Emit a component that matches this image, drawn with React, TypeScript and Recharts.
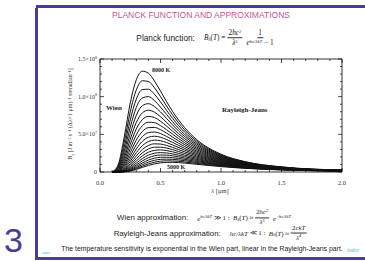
import { LineChart, Line, XAxis, YAxis } from 'recharts'

// wavelength grid in micron
const WAVELENGTH = [0.1, 0.15, 0.2, 0.25, 0.3, 0.35, 0.4, 0.45, 0.5, 0.55, 0.6, 0.7, 0.8, 1.0, 1.2, 1.5, 2.0]

// B_lambda per curve, units of 1e6 J m-2 s-1 um-1 sr-1
const B5000 = [0, 0.0, 0.2, 1.2, 3.4, 6.1, 8.7, 10.8, 12.1, 12.7, 12.8, 11.8, 10.2, 7.1, 4.8, 2.7, 1.2]
const B5150 = [0, 0.0, 0.3, 1.7, 4.4, 7.7, 10.8, 13.0, 14.3, 14.8, 14.7, 13.3, 11.4, 7.8, 5.2, 2.9, 1.2]
const B5300 = [0, 0.0, 0.5, 2.3, 5.8, 9.7, 13.1, 15.5, 16.8, 17.1, 16.8, 15.0, 12.6, 8.5, 5.6, 3.1, 1.3]
const B5450 = [0, 0.0, 0.7, 3.2, 7.4, 12.0, 15.8, 18.3, 19.5, 19.6, 19.0, 16.7, 13.9, 9.2, 6.0, 3.3, 1.4]
const B5600 = [0, 0.1, 1.0, 4.2, 9.4, 14.7, 18.9, 21.5, 22.5, 22.4, 21.5, 18.5, 15.3, 9.9, 6.4, 3.5, 1.4]
const B5750 = [0, 0.1, 1.4, 5.5, 11.7, 17.8, 22.4, 24.9, 25.7, 25.3, 24.0, 20.4, 16.7, 10.6, 6.8, 3.6, 1.5]
const B5900 = [0, 0.1, 1.9, 7.1, 14.5, 21.4, 26.2, 28.7, 29.3, 28.4, 26.8, 22.4, 18.1, 11.4, 7.2, 3.8, 1.6]
const B6050 = [0, 0.2, 2.6, 9.0, 17.7, 25.4, 30.5, 32.9, 33.0, 31.8, 29.7, 24.5, 19.6, 12.2, 7.7, 4.0, 1.6]
const B6200 = [0, 0.3, 3.4, 11.3, 21.4, 29.9, 35.2, 37.4, 37.1, 35.3, 32.7, 26.7, 21.2, 13.0, 8.1, 4.2, 1.7]
const B6350 = [0, 0.4, 4.5, 14.1, 25.7, 35.0, 40.4, 42.3, 41.5, 39.1, 35.9, 29.0, 22.8, 13.8, 8.5, 4.4, 1.8]
const B6500 = [0, 0.6, 5.8, 17.4, 30.6, 40.7, 46.1, 47.5, 46.1, 43.1, 39.3, 31.3, 24.4, 14.6, 9.0, 4.7, 1.8]
const B6650 = [0, 0.9, 7.5, 21.3, 36.2, 46.9, 52.3, 53.1, 51.0, 47.2, 42.8, 33.8, 26.1, 15.5, 9.4, 4.9, 1.9]
const B6800 = [0, 1.2, 9.5, 25.7, 42.4, 53.8, 58.9, 59.1, 56.2, 51.6, 46.4, 36.3, 27.8, 16.3, 9.9, 5.1, 2.0]
const B6950 = [0, 1.6, 11.9, 30.9, 49.4, 61.4, 66.1, 65.5, 61.6, 56.2, 50.2, 38.8, 29.6, 17.2, 10.4, 5.3, 2.1]
const B7100 = [0, 2.1, 14.8, 36.8, 57.2, 69.6, 73.8, 72.3, 67.4, 61.0, 54.1, 41.5, 31.4, 18.1, 10.9, 5.5, 2.1]
const B7250 = [0, 2.8, 18.3, 43.5, 65.8, 78.5, 82.0, 79.4, 73.4, 65.9, 58.2, 44.2, 33.2, 19.0, 11.3, 5.7, 2.2]
const B7400 = [0, 3.7, 22.3, 51.1, 75.3, 88.0, 90.7, 86.9, 79.7, 71.1, 62.4, 47.0, 35.1, 19.9, 11.8, 5.9, 2.3]
const B7550 = [0, 4.8, 27.1, 59.6, 85.7, 98.3, 100.1, 94.8, 86.2, 76.4, 66.7, 49.8, 37.0, 20.8, 12.3, 6.1, 2.3]
const B7700 = [0, 6.1, 32.6, 69.2, 96.8, 109.4, 109.9, 103.1, 93.0, 81.9, 71.2, 52.8, 38.9, 21.7, 12.8, 6.3, 2.4]
const B7850 = [0, 7.7, 39.0, 79.8, 109.0, 121.1, 120.2, 111.8, 100.1, 87.6, 75.8, 55.8, 40.9, 22.7, 13.3, 6.6, 2.5]
const B8000 = [0, 9.7, 46.3, 91.6, 122.4, 133.8, 131.2, 120.8, 107.4, 93.5, 80.4, 58.8, 42.9, 23.6, 13.8, 6.8, 2.6]

const TEMPS = [5000, 5150, 5300, 5450, 5600, 5750, 5900, 6050, 6200, 6350, 6500, 6650, 6800, 6950, 7100, 7250, 7400, 7550, 7700, 7850, 8000]
const CURVES = [B5000, B5150, B5300, B5450, B5600, B5750, B5900, B6050, B6200, B6350, B6500, B6650, B6800, B6950, B7100, B7250, B7400, B7550, B7700, B7850, B8000]

const X_TICKS = [0, 0.1, 0.2, 0.3, 0.4, 0.5, 0.6, 0.7, 0.8, 0.9, 1.0, 1.1, 1.2, 1.3, 1.4, 1.5, 1.6, 1.7, 1.8, 1.9, 2.0]
const X_TICK_LABELS = ['0.0', '0.5', '1.0', '1.5', '2.0']
const Y_TICKS = [0, 10, 20, 30, 40, 50, 60, 70, 80, 90, 100, 110, 120, 130, 140, 150]
const Y_TICK_MANTISSA = ['0', '5.0×10', '1.0×10', '1.5×10']
const Y_TICK_EXP = ['', '7', '8', '8']

const FRAME = '#473d99'
const SERIF = '"Liberation Serif", "DejaVu Serif", serif'
const SANS = '"Liberation Sans", Arial, sans-serif'

const data = WAVELENGTH.map((lam, i) => {
	const row: Record<string, number> = { lam }
	TEMPS.forEach((t, k) => {
		row['t' + t] = CURVES[k][i]
	})
	return row
})

const isMajorX = (v: number) => Math.round(v * 10) % 5 === 0
const isMajorY = (v: number) => v % 50 === 0

function BottomTick({ x, y, payload }: any) {
	const major = isMajorX(payload.value)
	return (
		<g>
			<line x1={x} x2={x} y1={y} y2={y - (major ? 4 : 2)} stroke='#000' strokeWidth={0.7} />
			{major && (
				<text x={x} y={y + 13} textAnchor='middle' fontSize={6.5} fontFamily={SERIF} fill='#333'>
					{X_TICK_LABELS[Math.round(payload.value * 2)]}
				</text>
			)}
		</g>
	)
}

function TopTick({ x, y, payload }: any) {
	const major = isMajorX(payload.value)
	return <line x1={x} x2={x} y1={y} y2={y + (major ? 4 : 2)} stroke='#000' strokeWidth={0.7} />
}

function LeftTick({ x, y, payload }: any) {
	const major = isMajorY(payload.value)
	const idx = Math.round(payload.value / 50)
	return (
		<g>
			<line x1={x} x2={x + (major ? 4 : 2)} y1={y} y2={y} stroke='#000' strokeWidth={0.7} />
			{major && (
				<text x={x - 3} y={y + 2} textAnchor='end' fontSize={6} fontFamily={SERIF} fill='#333'>
					{Y_TICK_MANTISSA[idx]}
					{Y_TICK_EXP[idx] && (
						<tspan dy={-2.5} fontSize={4}>
							{Y_TICK_EXP[idx]}
						</tspan>
					)}
				</text>
			)}
		</g>
	)
}

function RightTick({ x, y, payload }: any) {
	const major = isMajorY(payload.value)
	return <line x1={x} x2={x - (major ? 4 : 2)} y1={y} y2={y} stroke='#000' strokeWidth={0.7} />
}

function Frac({ n, d }: { n: React.ReactNode; d: React.ReactNode }) {
	return (
		<span
			style={{
				display: 'inline-flex',
				flexDirection: 'column',
				alignItems: 'center',
				verticalAlign: 'middle',
				margin: '0 2px',
			}}
		>
			<span style={{ borderBottom: '0.7px solid #333', padding: '0 1px 1px', lineHeight: 1 }}>{n}</span>
			<span style={{ lineHeight: 1, paddingTop: 1 }}>{d}</span>
		</span>
	)
}

const Sup = ({ children }: { children: React.ReactNode }) => (
	<span style={{ fontSize: '0.65em', verticalAlign: '0.5em' }}>{children}</span>
)
const Sub = ({ children }: { children: React.ReactNode }) => (
	<span style={{ fontSize: '0.7em', verticalAlign: '-0.25em' }}>{children}</span>
)

function Row({ cx, cy, children, size = 7.8 }: { cx: number; cy: number; children: React.ReactNode; size?: number }) {
	return (
		<div
			style={{
				position: 'absolute',
				left: cx,
				top: cy,
				transform: 'translate(-50%, -50%)',
				whiteSpace: 'nowrap',
				display: 'flex',
				alignItems: 'center',
				fontSize: size,
				color: '#222',
			}}
		>
			{children}
		</div>
	)
}

function Label({ x, y, size, children }: { x: number; y: number; size: number; children: React.ReactNode }) {
	return (
		<div
			style={{
				position: 'absolute',
				left: x,
				top: y,
				transform: 'translateY(-50%)',
				fontFamily: SERIF,
				fontWeight: 700,
				fontSize: size,
				lineHeight: 1,
				whiteSpace: 'nowrap',
				color: '#222',
			}}
		>
			{children}
		</div>
	)
}

// formula block: serif, a bit smaller than the sans text
function Formula({ children }: { children: React.ReactNode }) {
	return (
		<span style={{ display: 'inline-flex', alignItems: 'center', fontFamily: SERIF, fontSize: '0.88em' }}>{children}</span>
	)
}
const M = ({ children }: { children: React.ReactNode }) => <span style={{ fontStyle: 'italic' }}>{children}</span>
const Up = ({ children }: { children: React.ReactNode }) => <span style={{ fontStyle: 'normal' }}>{children}</span>

export default function App() {
	return (
		<div
			style={{
				position: 'absolute',
				left: 0,
				top: 0,
				width: 365,
				height: 261,
				background: '#fff',
				overflow: 'hidden',
				fontFamily: SANS,
			}}
		>
			{/* slide frame */}
			<div style={{ position: 'absolute', left: 36, top: 5, width: 340, height: 3, background: FRAME }} />
			<div style={{ position: 'absolute', left: 35, top: 8, width: 3, height: 252, background: FRAME }} />
			<div style={{ position: 'absolute', left: 35, top: 257, width: 340, height: 3, background: FRAME }} />
			<div
				style={{
					position: 'absolute',
					left: 4,
					top: 223,
					fontSize: 34,
					lineHeight: 1,
					color: FRAME,
					fontFamily: SANS,
				}}
			>
				3
			</div>
			<div style={{ position: 'absolute', left: 42, top: 250, fontSize: 4.5, color: '#45c3d6', fontFamily: SERIF }}>start</div>
			<div style={{ position: 'absolute', left: 347, top: 247, fontSize: 5.5, color: '#45c3d6', fontFamily: SERIF, fontStyle: 'italic' }}>
				index
			</div>

			{/* title */}
			<div
				style={{
					position: 'absolute',
					left: 201,
					top: 15,
					transform: 'translate(-50%, -50%)',
					whiteSpace: 'nowrap',
					fontSize: 8.5,
					color: '#c4539b',
				}}
			>
				PLANCK FUNCTION AND APPROXIMATIONS
			</div>

			<Row cx={206} cy={38} size={8.3}>
				<span style={{ marginRight: 9 }}>Planck function:</span>
				<Formula>
					<M>B</M>
					<M>
						<Sub>λ</Sub>
					</M>
					<Up>(</Up>
					<M>T</M>
					<Up>)&nbsp;=</Up>
					<Frac
						n={
							<M>
								<Up>2</Up>hc<Sup>2</Sup>
							</M>
						}
						d={
							<M>
								λ<Sup>5</Sup>
							</M>
						}
					/>
					<Frac
						n={<Up>1</Up>}
						d={
							<M>
								e
								<Sup>hc/λkT</Sup>
								<Up> − 1</Up>
							</M>
						}
					/>
				</Formula>
			</Row>

			{/* chart */}
			<div style={{ position: 'absolute', left: 0, top: 0 }}>
				<LineChart width={365} height={261} data={data} margin={{ top: 58, right: 22, bottom: 88, left: 99 }}>
					<XAxis
						dataKey='lam'
						type='number'
						domain={[0, 2]}
						ticks={X_TICKS}
						interval={0}
						height={1}
						tickSize={0}
						tickMargin={0}
						tickLine={false}
						axisLine={{ stroke: '#000', strokeWidth: 0.8 }}
						tick={<BottomTick />}
					/>
					<XAxis
						xAxisId='top'
						orientation='top'
						dataKey='lam'
						type='number'
						domain={[0, 2]}
						ticks={X_TICKS}
						interval={0}
						height={1}
						tickSize={0}
						tickMargin={0}
						tickLine={false}
						axisLine={{ stroke: '#000', strokeWidth: 0.8 }}
						tick={<TopTick />}
					/>
					<YAxis
						type='number'
						domain={[0, 150]}
						ticks={Y_TICKS}
						interval={0}
						width={1}
						tickSize={0}
						tickMargin={0}
						tickLine={false}
						axisLine={{ stroke: '#000', strokeWidth: 0.8 }}
						tick={<LeftTick />}
					/>
					<YAxis
						yAxisId='right'
						orientation='right'
						type='number'
						domain={[0, 150]}
						ticks={Y_TICKS}
						interval={0}
						width={1}
						tickSize={0}
						tickMargin={0}
						tickLine={false}
						axisLine={{ stroke: '#000', strokeWidth: 0.8 }}
						tick={<RightTick />}
					/>
					{TEMPS.map(t => (
						<Line
							key={t}
							type='monotone'
							dataKey={'t' + t}
							stroke='#111'
							strokeWidth={1}
							dot={false}
							isAnimationActive={false}
						/>
					))}
					{/* invisible copy so the top/right frame axes have data */}
					<Line
						xAxisId='top'
						yAxisId='right'
						dataKey='t8000'
						stroke='none'
						dot={false}
						activeDot={false}
						isAnimationActive={false}
					/>
				</LineChart>
			</div>

			{/* y axis title */}
			<div
				style={{
					position: 'absolute',
					left: 71,
					top: 114,
					transform: 'translate(-50%, -50%) rotate(-90deg)',
					whiteSpace: 'nowrap',
					fontFamily: SERIF,
					fontSize: 6,
					color: '#333',
				}}
			>
				B<Sub>λ</Sub> [J m<Sup>−2</Sup> s<Sup>−1</Sup> (Δλ=1 μm)<Sup>−1</Sup> steradian<Sup>−1</Sup>]
			</div>
			<div
				style={{
					position: 'absolute',
					left: 220,
					top: 190,
					transform: 'translate(-50%, -50%)',
					whiteSpace: 'nowrap',
					fontFamily: SERIF,
					fontSize: 6.5,
					color: '#333',
				}}
			>
				<i>λ</i> [μm]
			</div>

			<Label x={152} y={70} size={6}>8000 K</Label>
			<Label x={167} y={167} size={6}>5000 K</Label>
			<Label x={106} y={108} size={7}>Wien</Label>
			<Label x={222} y={110} size={7}>Rayleigh-Jeans</Label>

			<Row cx={204} cy={218}>
				<span style={{ marginRight: 9 }}>Wien approximation:</span>
				<Formula>
					<M>
						e<Sup>hc/λkT</Sup>
					</M>
					<Up>&nbsp;≫ 1 :&nbsp;&nbsp;</Up>
					<M>B</M>
					<M>
						<Sub>λ</Sub>
					</M>
					<Up>(</Up>
					<M>T</M>
					<Up>)&nbsp;≈</Up>
					<Frac
						n={
							<M>
								<Up>2</Up>hc<Sup>2</Sup>
							</M>
						}
						d={
							<M>
								λ<Sup>5</Sup>
							</M>
						}
					/>
					<M>
						&nbsp;e<Sup>−hc/λkT</Sup>
					</M>
				</Formula>
			</Row>

			<Row cx={211} cy={233}>
				<span style={{ marginRight: 9 }}>Rayleigh-Jeans approximation:</span>
				<Formula>
					<M>hc/λkT</M>
					<Up>&nbsp;≪ 1 :&nbsp;&nbsp;</Up>
					<M>B</M>
					<M>
						<Sub>λ</Sub>
					</M>
					<Up>(</Up>
					<M>T</M>
					<Up>)&nbsp;≈</Up>
					<Frac
						n={
							<M>
								<Up>2</Up>ckT
							</M>
						}
						d={
							<M>
								λ<Sup>4</Sup>
							</M>
						}
					/>
				</Formula>
			</Row>

			<Row cx={202} cy={248} size={6.9}>
				The temperature sensitivity is exponential in the Wien part, linear in the Rayleigh-Jeans part.
			</Row>
		</div>
	)
}
